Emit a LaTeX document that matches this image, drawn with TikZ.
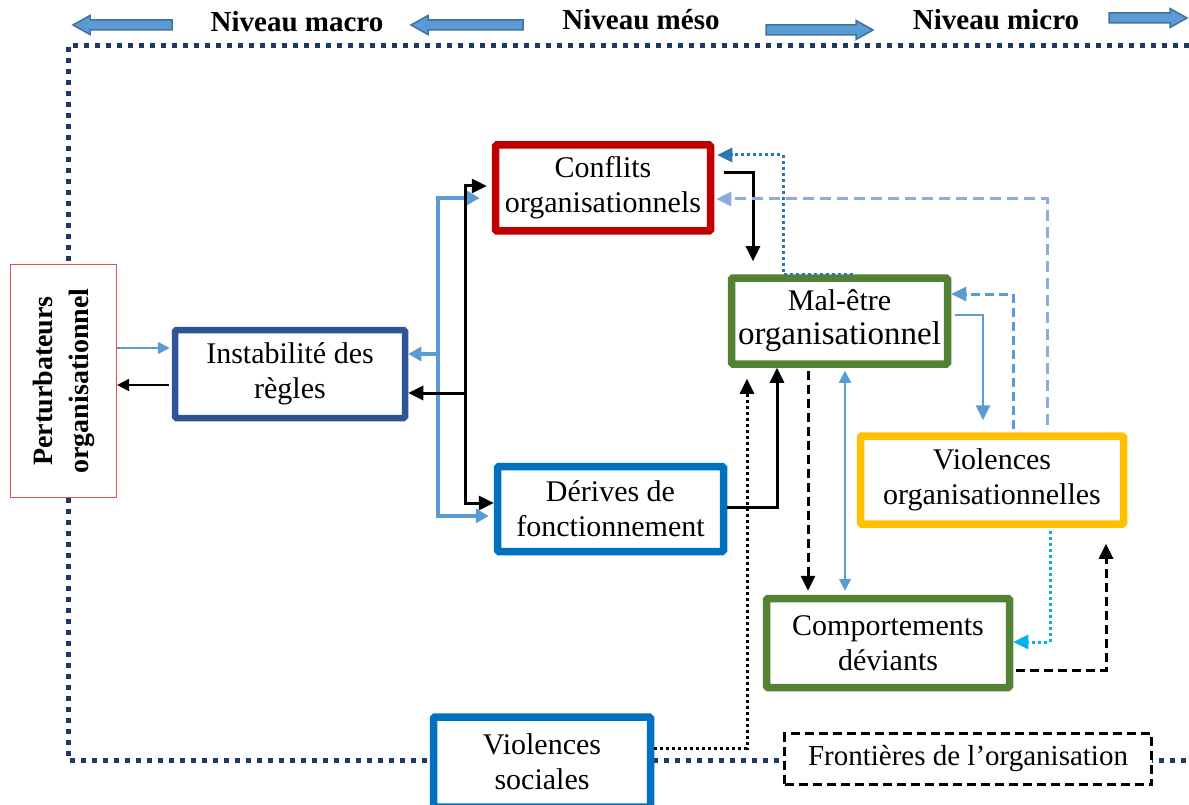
\documentclass[tikz,border=0pt]{standalone}
\usepackage{fontspec}
\setmainfont{Liberation Serif}
\usetikzlibrary{arrows.meta}

\definecolor{navy}{HTML}{203864}
\definecolor{lvlblue}{HTML}{5B9BD5}
\definecolor{lvledge}{HTML}{41719C}
\definecolor{instblue}{HTML}{2F5597}
\definecolor{confred}{HTML}{C00000}
\definecolor{derblue}{HTML}{0070C0}
\definecolor{malgreen}{HTML}{548235}
\definecolor{violyel}{HTML}{FFC000}
\definecolor{pertred}{HTML}{E0504F}
\definecolor{lightblue}{HTML}{8FAADC}
\definecolor{dotblue}{HTML}{2E75B6}
\definecolor{cyanblue}{HTML}{00B0F0}

\tikzset{
  box/.style={draw, rectangle, fill=white, align=center, inner sep=0pt,
    rounded corners=1.5pt, line width=7.5pt, font=\fontsize{30}{35}\selectfont},
  level/.style={font=\bfseries\fontsize{29}{35}\selectfont},
  lvlarrow/.style={fill=lvlblue, draw=lvledge, line width=1.5pt},
  border/.style={draw=navy, line width=5pt, dash pattern=on 5pt off 6pt},
  blk/.style={->, line width=3pt},
  thinblk/.style={->, line width=2pt, >={Triangle[length=12pt,width=12pt]}},
  thickblue/.style={->, draw=lvlblue, line width=4pt, >={Triangle[length=13pt,width=14pt]}},
  midblue/.style={->, draw=lvlblue, line width=2.8pt},
  thinblue/.style={draw=lvlblue, line width=1.8pt, >={Triangle[length=12pt,width=12pt]}},
  dotblk/.style={->, line width=3pt, dash pattern=on 3pt off 3pt},
  dashblk/.style={->, line width=3pt, dash pattern=on 9pt off 5pt},
  dotblu/.style={->, draw=dotblue, line width=3pt, dash pattern=on 3pt off 3pt},
  dashblu/.style={->, draw=lvlblue, line width=3pt, dash pattern=on 9pt off 5pt},
  dashlight/.style={->, draw=lightblue, line width=3pt, dash pattern=on 11pt off 6pt},
  dotcyan/.style={->, draw=cyanblue, line width=3pt, dash pattern=on 3pt off 3pt},
}

\begin{document}
\begin{tikzpicture}[x=1pt, y=-1pt, >={Triangle[length=15pt,width=14pt]}]
  \useasboundingbox (0,0) rectangle (1189,805);

  % organisation boundary
  \draw[border] (1189,46) -- (68,46) -- (68,760) -- (1189,760);

  % levels
  \draw[lvlarrow] (73,25) -- ++(17,-9.5) -- ++(0,4.5) -- ++(82,0) -- ++(0,10)
    -- ++(-82,0) -- ++(0,4.5) -- cycle;
  \draw[lvlarrow] (411,25) -- ++(17,-9.5) -- ++(0,4.5) -- ++(95,0) -- ++(0,10)
    -- ++(-95,0) -- ++(0,4.5) -- cycle;
  \draw[lvlarrow] (873,30) -- ++(-17,-9.5) -- ++(0,4.5) -- ++(-90,0) -- ++(0,10)
    -- ++(90,0) -- ++(0,4.5) -- cycle;
  \draw[lvlarrow] (1187,18) -- ++(-17,-9.5) -- ++(0,4.5) -- ++(-61,0) -- ++(0,10)
    -- ++(61,0) -- ++(0,4.5) -- cycle;
  \node[level] (macro) at (297,22) {Niveau macro};
  \node[level] (meso) at (641,20) {Niveau méso};
  \node[level] (micro) at (996,20) {Niveau micro};

  % boxes
  \node[draw=pertred, line width=1.2pt, fill=white, rotate=90, align=center,
    inner sep=0pt, minimum width=233pt, minimum height=106pt,
    font=\bfseries\fontsize{28}{36}\selectfont] (pert) at (63.5,381)
    {Perturbateurs\\organisationnel};
  \node[box, draw=instblue, line width=6.5pt, minimum width=230pt, minimum height=88pt]
    (instab) at (290,374) {Instabilité des\\règles};
  \node[box, draw=confred, minimum width=215pt, minimum height=86pt]
    (conflits) at (603,188) {Conflits\\organisationnels};
  \node[box, draw=derblue, minimum width=226pt, minimum height=85pt]
    (derives) at (610.5,509) {Dérives de\\fonctionnement};
  \node[box, draw=malgreen, minimum width=216pt, minimum height=86pt]
    (maletre) at (839.5,321)
    {Mal-être\\[-1pt]{\fontsize{33}{38}\selectfont organisationnel}};
  \node[box, draw=violyel, minimum width=263pt, minimum height=88pt]
    (violorg) at (992,480) {Violences\\organisationnelles};
  \node[box, draw=malgreen, minimum width=243pt, minimum height=89pt]
    (comport) at (888,643) {Comportements\\déviants};
  \node[box, draw=derblue, minimum width=217pt, minimum height=90pt]
    (violsoc) at (542,762) {Violences\\sociales};
  \node[box, draw=black, line width=2.5pt, dash pattern=on 9pt off 5pt,
    rounded corners=0pt, minimum width=367pt, minimum height=51pt,
    font=\fontsize{29}{35}\selectfont]
    (frontieres) at (968,759) {Frontières de l’organisation};

  % links
  \coordinate (bfork) at (438,354);
  \coordinate (kfork) at (465,393);

  \draw[thinblue,->,shorten >=2pt] (pert.south |- 0,348) -- (instab.west |- 0,348);
  \draw[thinblk,shorten <=3pt] (instab.west |- 0,385) -- (pert.south |- 0,385);

  \draw[thickblue] (bfork) -- (instab.east |- bfork);
  \draw[thickblue,shorten >=12pt] (bfork) |- (conflits.west |- 0,198);
  \draw[thickblue,shorten >=5pt] (bfork) |- (derives.west |- 0,516);

  \draw[blk] (kfork) -- (instab.east |- kfork);
  \draw[blk,shorten >=5pt] (kfork) |- (conflits.west |- 0,186);
  \draw[blk] (kfork) |- (derives.west |- 0,503);

  \draw[blk,shorten <=10pt,shorten >=13pt] (conflits.east |- 0,173) -| (maletre.north -| 753,0);
  \draw[dotblu,shorten >=3pt] ([xshift=13.5pt]maletre.north) -- ++(-70,0)
    |- (conflits.east |- 0,155);
  \draw[dashlight,shorten <=7pt,shorten >=2pt] (violorg.north -| 1047,0) |- (conflits.east |- 0,199);
  \draw[dashblu,shorten <=3pt] (violorg.north -| 1013,0) |- (maletre.east |- 0,294);
  \draw[midblue,shorten <=4pt,shorten >=12pt] (maletre.east |- 0,315) -| (violorg.north -| 983,0);

  \draw[blk] (derives.east |- 0,507) -| (maletre.south -| 777,0);
  \draw[dotblk,shorten >=11pt] (violsoc.east |- 0,748) -| (maletre.south -| 747,0);
  \draw[dashblk,shorten <=3pt,shorten >=4pt] (maletre.south -| 808,0) -- (comport.north -| 808,0);
  \draw[thinblue,<->,shorten <=4pt,shorten >=3pt] (comport.north -| 845,0) -- (maletre.south -| 845,0);

  \draw[dotcyan,shorten <=3pt] (violorg.south -| 1050,0) |- (comport.east |- 0,642);
  \draw[dashblk,shorten <=3pt,shorten >=16pt] (comport.east |- 0,670) -| (violorg.south -| 1106,0);
\end{tikzpicture}
\end{document}
